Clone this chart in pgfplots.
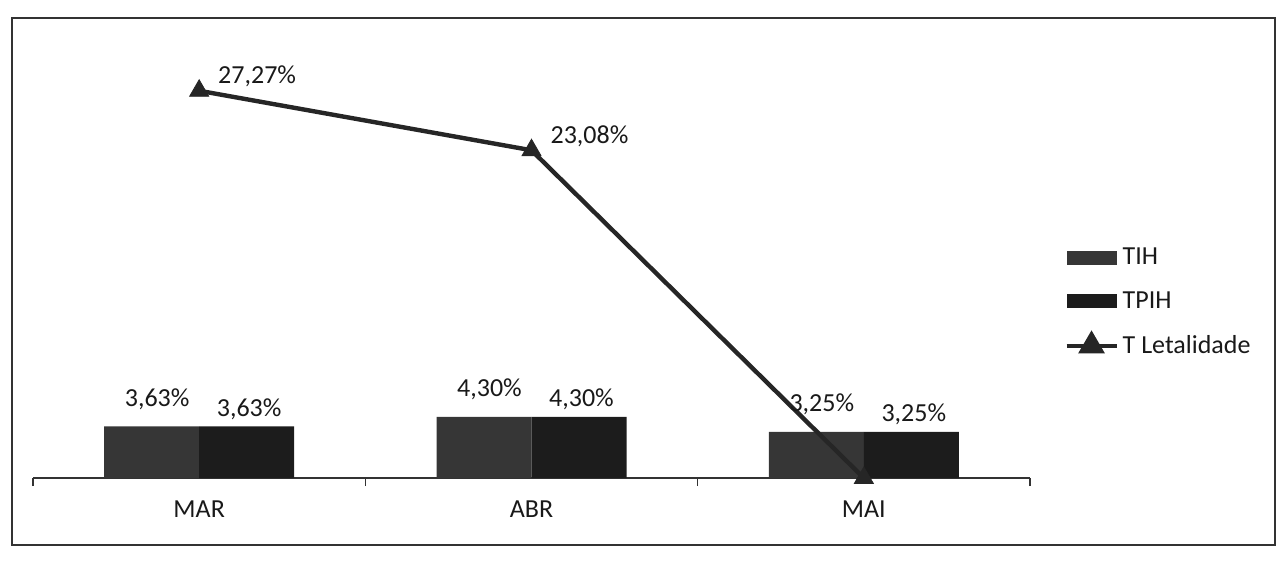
\documentclass[border=0pt]{standalone}
\usepackage{fontspec}
\setmainfont{Carlito}
\usepackage{pgfplots}
\pgfplotsset{compat=1.18}
\definecolor{tih}{HTML}{363636}
\definecolor{tpih}{HTML}{1C1C1C}
\definecolor{letal}{HTML}{262626}
\begin{document}
\begin{tikzpicture}[x=1pt,y=1pt]
\path (0,0) rectangle (640,281.5);
\draw[line width=0.8pt, black!80] (6,9) rectangle (637.5,272.5);
\begin{axis}[at={(16.5pt,42.5pt)}, anchor=south west, scale only axis,
  width=498.5pt, height=213pt,
  xmin=-0.5, xmax=2.5, ymin=0, ymax=30,
  axis y line=none, axis x line*=bottom,
  x axis line style={line width=0.7pt, black!80},
  xtick={0,1,2}, xticklabels={MAR,ABR,MAI},
  major tick length=0pt,
  minor xtick={-0.5,0.5,1.5,2.5}, minor tick length=4pt,
  tick align=outside, tick style={line width=0.7pt, black!80},
  xticklabel style={font=\fontsize{13pt}{15pt}\selectfont, text=black!90, yshift=-8pt},
  clip=false,
  every node near coord/.append style={font=\fontsize{13pt}{15pt}\selectfont, text=black!90},
  legend cell align=left,
  legend style={at={(1.028,0.56)}, anchor=north west, draw=none, fill=none,
    font=\fontsize{13pt}{15pt}\selectfont, text=black!90, row sep=8pt},
]
\addplot[ybar, bar width=47.5pt, bar shift=-23.75pt, fill=tih, draw=none,
  nodes near coords, point meta=explicit symbolic,
  every node near coord/.append style={xshift=-21pt, yshift=5pt},
  legend image code/.code={\fill[tih] (0pt,-3.5pt) rectangle (25pt,3.5pt);}]
  coordinates {(0,3.63)[3,63\%] (1,4.30)[4,30\%] (2,3.25)[3,25\%]};
\addlegendentry{TIH}
\addplot[ybar, bar width=47.5pt, bar shift=23.75pt, fill=tpih, draw=none,
  nodes near coords, point meta=explicit symbolic,
  every node near coord/.append style={xshift=25pt},
  legend image code/.code={\fill[tpih] (0pt,-3.5pt) rectangle (25pt,3.5pt);}]
  coordinates {(0,3.63)[3,63\%] (1,4.30)[4,30\%] (2,3.25)[3,25\%]};
\addlegendentry{TPIH}
\addplot[sharp plot, color=letal, line width=2.2pt, mark=triangle*, mark size=5.5pt,
  mark options={solid, line width=0.4pt, fill=letal},
  nodes near coords, point meta=explicit symbolic,
  every node near coord/.append style={anchor=west, xshift=6pt, yshift=7pt},
  legend image code/.code={\draw[letal, line width=2.2pt] (0pt,0pt) -- (25pt,0pt);
    \fill[letal] (12.5pt,5.5pt) -- (7.7pt,-2.75pt) -- (17.3pt,-2.75pt) -- cycle;}]
  coordinates {(0,27.27)[27,27\%] (1,23.08)[23,08\%] (2,0)[]};
\addlegendentry{T Letalidade}
\end{axis}
\end{tikzpicture}
\end{document}
